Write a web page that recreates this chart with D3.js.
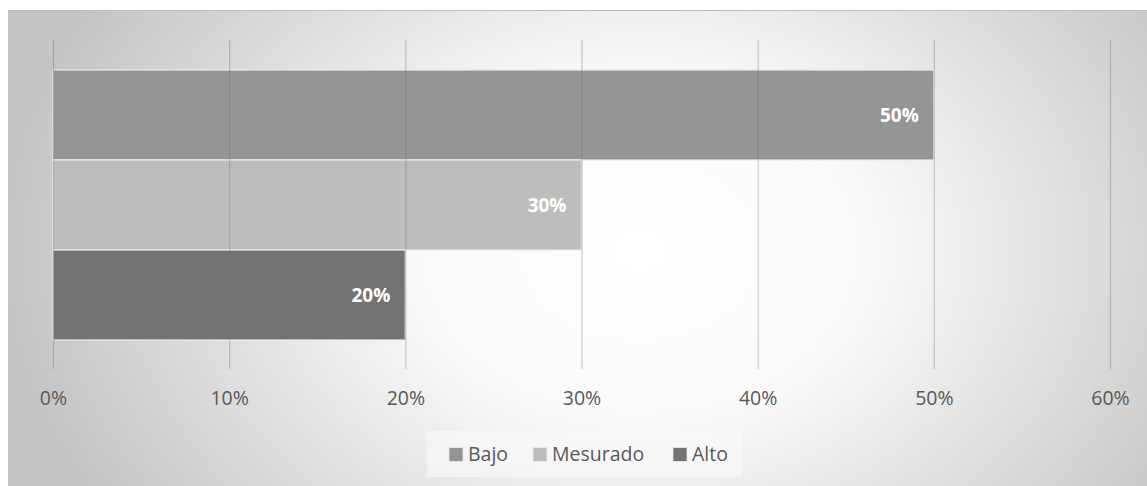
<!DOCTYPE html>
<html><head><meta charset="utf-8">
<script src="https://cdn.jsdelivr.net/npm/d3@7"></script>
<style>html,body{margin:0;padding:0;background:#fff;}svg{display:block;}</style>
</head><body>
<svg id="c" width="1147" height="486"></svg>
<script>
const categories = ["Bajo", "Mesurado", "Alto"];
const values = [0.50, 0.30, 0.20];
const colors = ["#959595", "#bdbdbd", "#737373"];
const tickValues = [0, 0.1, 0.2, 0.3, 0.4, 0.5, 0.6];

const FONT = "'Open Sans', 'Noto Sans', sans-serif";
const svg = d3.select("#c");
const defs = svg.append("defs");
const rg = defs.append("radialGradient").attr("id","bg")
  .attr("gradientUnits","userSpaceOnUse").attr("cx",640).attr("cy",250).attr("r",640)
  .attr("gradientTransform","translate(640,250) scale(1,0.75) translate(-640,-250)");
rg.append("stop").attr("offset","0").attr("stop-color","#ffffff");
rg.append("stop").attr("offset","0.35").attr("stop-color","#fafafa");
rg.append("stop").attr("offset","1").attr("stop-color","#c4c4c4");

svg.append("rect").attr("x",8).attr("y",10).attr("width",1139).attr("height",476).attr("fill","url(#bg)");
svg.append("line").attr("x1",8).attr("x2",1147).attr("y1",10.5).attr("y2",10.5).attr("stroke","#bcbcbc");

const x = d3.scaleLinear().domain([0,0.6]).range([53,1110]);
const y = d3.scaleBand().domain(categories).range([70,340]).padding(0);

// bars
svg.append("g").selectAll("rect").data(categories).join("rect")
  .attr("x", x(0)).attr("y", d=>y(d))
  .attr("width", (d,i)=>x(values[i])-x(0)).attr("height", y.bandwidth())
  .attr("fill",(d,i)=>colors[i]).attr("stroke","rgba(235,235,235,0.8)").attr("stroke-width",1.5);

// gridlines + tick labels
const axis = d3.axisBottom(x).tickValues(tickValues).tickFormat(d3.format(".0%")).tickSize(329).tickPadding(22);
const g = svg.append("g").attr("transform","translate(0,40)").call(axis);
g.select(".domain").remove();
g.selectAll(".tick line").attr("stroke","rgba(110,110,110,0.35)").attr("stroke-width",1.2);
g.selectAll(".tick text").attr("fill","#595959").style("font-family",FONT).style("font-size","19.5px");

// labels
svg.append("g").selectAll("text").data(categories).join("text")
  .attr("x",(d,i)=>x(values[i])-15).attr("y",d=>y(d)+y.bandwidth()/2)
  .attr("dy","0.35em").attr("text-anchor","end")
  .attr("fill","#fff").style("font-weight","bold")
  .style("font-family",FONT).style("font-size","19px")
  .text((d,i)=>d3.format(".0%")(values[i]));

// legend
svg.append("rect").attr("x",427).attr("y",431).attr("width",315).attr("height",46).attr("fill","rgba(250,250,250,0.6)");
const legX = [449, 533, 673];
const lg = svg.append("g").selectAll("g").data(categories).join("g")
  .attr("transform",(d,i)=>`translate(${legX[i]},454.5)`);
lg.append("rect").attr("x",0).attr("y",-7).attr("width",14).attr("height",14).attr("fill",(d,i)=>colors[i])
  .attr("stroke","rgba(235,235,235,0.8)");
lg.append("text").attr("x",19).attr("dy","0.35em").attr("fill","#595959")
  .style("font-family",FONT).style("font-size","19.5px").text(d=>d);
</script>
</body></html>
